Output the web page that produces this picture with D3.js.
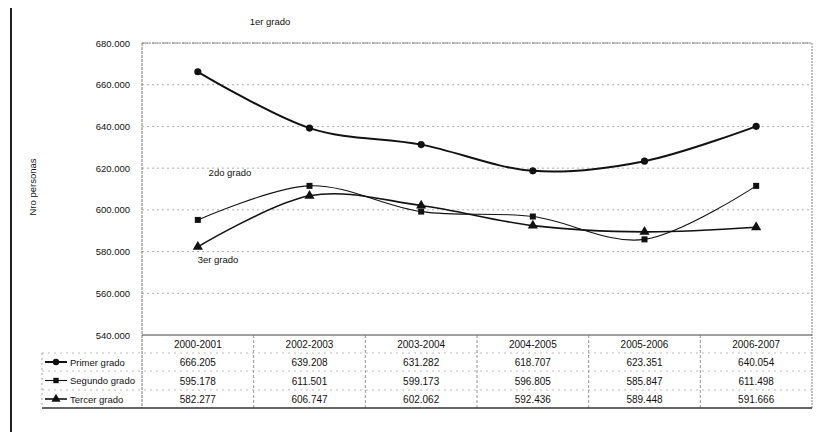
<!DOCTYPE html>
<html><head><meta charset="utf-8">
<script src="https://cdn.jsdelivr.net/npm/d3@7"></script>
<style>
body{margin:0;background:#fff;}
svg{display:block;font-family:"Liberation Sans",Arial,sans-serif;}
</style></head>
<body><svg id="c" width="833" height="432"></svg>
<script>
const categories = ["2000-2001","2002-2003","2003-2004","2004-2005","2005-2006","2006-2007"];
const seriesNames = ["Primer grado","Segundo grado","Tercer grado"];
const primer = [666205, 639208, 631282, 618707, 623351, 640054];
const segundo = [595178, 611501, 599173, 596805, 585847, 611498];
const tercer = [582277, 606747, 602062, 592436, 589448, 591666];
const yTicks = [540000, 560000, 580000, 600000, 620000, 640000, 660000, 680000];
const seriesLabels = ["1er grado","2do grado","3er grado"];
const yTitle = "Nro personas";

const svg = d3.select("#c");
const L = 142, R = 812, T = 43, B = 335;
const rowY = [335, 353, 371, 390, 408];
const tableLeft = 42;
const loc = d3.formatLocale({decimal:",", thousands:".", grouping:[3], currency:["",""]});
const fmt = loc.format(",d");

const x = d3.scaleBand().domain(categories).range([L, R]);
const y = d3.scaleLinear().domain([540000, 680000]).range([B, T]);

// outer left border of scan
svg.append("line").attr("x1",11).attr("x2",11).attr("y1",8).attr("y2",432)
  .attr("stroke","#222").attr("stroke-width",2);

// gridlines
svg.append("g").selectAll("line").data(yTicks.filter(d=>d>540000)).join("line")
  .attr("x1",L).attr("x2",R).attr("y1",d=>y(d)).attr("y2",d=>y(d))
  .attr("stroke","#999").attr("stroke-width",0.8).attr("stroke-dasharray","2,3");

// plot border
svg.append("line").attr("x1",L).attr("x2",L).attr("y1",T).attr("y2",rowY[4]).attr("stroke","#555").attr("stroke-width",0.8).attr("stroke-dasharray","3,1");
svg.append("line").attr("x1",R).attr("x2",R).attr("y1",T).attr("y2",rowY[4]).attr("stroke","#666").attr("stroke-width",0.8).attr("stroke-dasharray","2,1");
svg.append("line").attr("x1",L).attr("x2",R).attr("y1",T).attr("y2",T).attr("stroke","#777").attr("stroke-width",0.9).attr("stroke-dasharray","6,1,2,1");
svg.append("line").attr("x1",L).attr("x2",R).attr("y1",B).attr("y2",B).attr("stroke","#444").attr("stroke-width",1);

// y axis labels
const yAxis = d3.axisLeft(y).tickValues(yTicks).tickFormat(fmt).tickSize(0).tickPadding(12);
const gy = svg.append("g").attr("transform",`translate(${L},0)`).call(yAxis);
gy.select(".domain").remove();
gy.selectAll("text").attr("font-size","9.5px").attr("fill","#111").attr("font-family","Liberation Sans, Arial, sans-serif");

// y title
svg.append("text").attr("transform","translate(36,187) rotate(-90)").attr("text-anchor","middle")
  .attr("font-size","9.5px").attr("fill","#111").text(yTitle);

// table grid
const tbl = svg.append("g");
categories.forEach((c,i)=>{
  const xb = x(c) + x.bandwidth();
  if (i < categories.length-1)
    tbl.append("line").attr("x1",xb).attr("x2",xb).attr("y1",B).attr("y2",rowY[4]).attr("stroke","#777").attr("stroke-width",0.8).attr("stroke-dasharray","3,2");
});
[rowY[1],rowY[2],rowY[3]].forEach(yy=>{
  tbl.append("line").attr("x1",tableLeft).attr("x2",R).attr("y1",yy).attr("y2",yy).attr("stroke","#aaa").attr("stroke-width",0.8).attr("stroke-dasharray","2,4");
});
tbl.append("line").attr("x1",tableLeft).attr("x2",tableLeft).attr("y1",rowY[1]).attr("y2",rowY[4]).attr("stroke","#888").attr("stroke-width",0.8).attr("stroke-dasharray","2,3");
tbl.append("line").attr("x1",tableLeft).attr("x2",R).attr("y1",rowY[4]).attr("y2",rowY[4]).attr("stroke","#333").attr("stroke-width",1.3);

// header
tbl.selectAll("text.hd").data(categories).join("text").attr("class","hd")
  .attr("x",d=>x(d)+x.bandwidth()/2).attr("y",(rowY[0]+rowY[1])/2+4)
  .attr("text-anchor","middle").attr("font-size","10px").attr("fill","#111").text(d=>d);

const allSeries = [primer, segundo, tercer];
const widths = [2, 1.1, 1.6];
const symbols = [d3.symbolCircle, d3.symbolSquare, d3.symbolTriangle];
const symSizes = [40, 36, 45];

allSeries.forEach((vals,si)=>{
  const cy = (rowY[si+1]+rowY[si+2])/2 + 4;
  tbl.selectAll(`text.v${si}`).data(vals).join("text").attr("class",`v${si}`)
    .attr("x",(d,i)=>x(categories[i])+x.bandwidth()/2).attr("y",cy)
    .attr("text-anchor","middle").attr("font-size","10px").attr("fill","#111").text(d=>fmt(d));
  // legend key
  const ly = (rowY[si+1]+rowY[si+2])/2;
  tbl.append("line").attr("x1",45).attr("x2",67).attr("y1",ly).attr("y2",ly).attr("stroke","#111").attr("stroke-width",widths[si]);
  tbl.append("path").attr("d",d3.symbol().type(symbols[si]).size(symSizes[si]*0.8)()).attr("transform",`translate(56,${ly})`).attr("fill","#111");
  tbl.append("text").attr("x",70).attr("y",ly+3.5).attr("font-size","9.5px").attr("fill","#111").text(seriesNames[si]);
});

// lines
const line = d3.line().x((d,i)=>x(categories[i])+x.bandwidth()/2).y(d=>y(d)).curve(d3.curveCatmullRom.alpha(0));
const plot = svg.append("g");
allSeries.forEach((vals,si)=>{
  plot.append("path").datum(vals).attr("d",line).attr("fill","none").attr("stroke","#111").attr("stroke-width",widths[si]);
  plot.selectAll(`path.m${si}`).data(vals).join("path").attr("class",`m${si}`)
    .attr("d",d3.symbol().type(symbols[si]).size(symSizes[si]))
    .attr("transform",(d,i)=>`translate(${x(categories[i])+x.bandwidth()/2},${y(d)})`).attr("fill","#111");
});

// series labels
const labelPos = [[270,25],[230,176],[218,263]];
seriesLabels.forEach((t,i)=>{
  svg.append("text").attr("x",labelPos[i][0]).attr("y",labelPos[i][1]).attr("text-anchor","middle")
    .attr("font-size","9.5px").attr("fill","#111").text(t);
});
</script></body></html>
